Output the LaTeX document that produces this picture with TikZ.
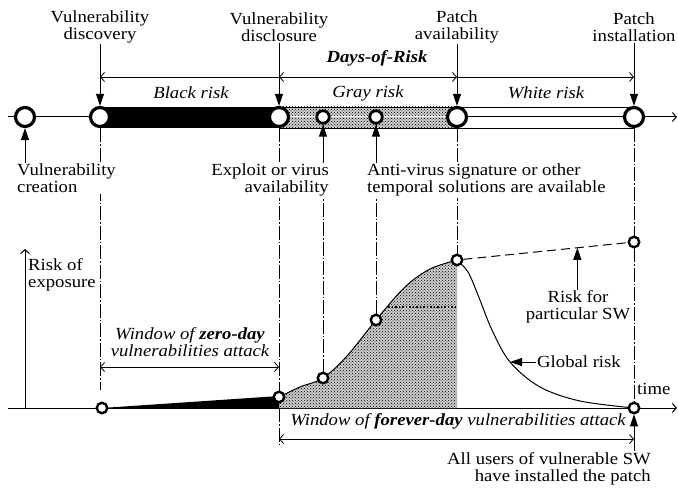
\documentclass[tikz,border=0pt]{standalone}
\usepackage{fontspec}
\setmainfont{Liberation Serif}[FakeStretch=1.1]
\usepackage{tikz}
\usetikzlibrary{arrows.meta,patterns,calc}
\newcommand\figfont{\fontsize{17}{17}\selectfont}

\begin{document}
\begin{tikzpicture}[x=1pt,y=-1pt,
  >={Straight Barb[length=4pt,width=9pt]},
  lbl/.style={font=\figfont,inner sep=1pt},
  bigring/.style={circle,draw,fill=white,line width=3.2pt,minimum size=19pt,inner sep=0pt},
  smallring/.style={bigring,line width=2.8pt,minimum size=12.5pt},
  curvering/.style={bigring,line width=2.4pt,minimum size=10.5pt},
  guide/.style={line width=0.8pt,dash pattern=on 14pt off 2pt on 1.5pt off 2pt},
  pointer/.style={line width=1pt,-{Triangle[length=12pt,width=8pt]}},
  dotted area/.style={pattern=crosshatch dots,preaction={fill=black!20}},
  span/.style={line width=0.8pt}]
  \useasboundingbox (0,0) rectangle (678,492);

  % upper time line with the three risk bands
  \coordinate (ustart) at (8,117);
  \coordinate (uend) at (677,117);
  \draw[line width=1pt,->] (ustart) -- (uend);
  \fill (100,107) rectangle (279,128);
  \draw[line width=0.8pt,dotted area] (279,107) rectangle (457,128);
  \draw[white,line width=1pt] (280,117) -- (456,117);
  \draw[line width=0.8pt] (457,107) rectangle (634,128);

  % lower axes
  \coordinate (origin) at (25,408);
  \coordinate (lstart) at (8,408);
  \coordinate (lend) at (677,408);
  \coordinate (ytop) at (25,249);
  \draw[line width=1pt,->] (lstart) -- (lend);
  \draw[line width=1pt,->] (origin) -- (ytop);

  % area under the global risk
  \fill[dotted area] (279,408) -- plot[smooth,tension=0.55] coordinates
    {(279,397) (300,387) (323,378) (347,356) (376,320) (405,287) (430,269) (457,260)}
    -- (457,408) -- cycle;
  \fill (102,408) -- (279,396) -- (279,408) -- cycle;
  \draw[line width=1.5pt,dotted] (388,307) -- (455,307);

  % global risk curve
  \draw[line width=1pt] plot[smooth,tension=0.55] coordinates
    {(279,397) (300,387) (323,378) (347,356) (376,320) (405,287) (430,269) (457,260)};
  \draw[line width=1pt] plot[smooth,tension=0.55] coordinates
    {(457,260) (468,272) (478,295) (492,330) (510,362) (540,387) (580,401) (634,408)};

  % events on the upper line
  \node[bigring] (creation) at (25,117) {};
  \node[bigring] (discovery) at (100,117) {};
  \node[bigring] (disclosure) at (279,117) {};
  \node[smallring] (exploit) at (323,117) {};
  \node[smallring] (antivirus) at (376,117) {};
  \node[bigring] (patchavail) at (457,117) {};
  \node[bigring] (patchinst) at (634,117) {};

  % points on the risk curve
  \node[curvering] (g0) at (102,408) {};
  \node[curvering] (g1) at (279,397) {};
  \node[curvering] (g2) at (323,378) {};
  \node[curvering] (g3) at (376,320) {};
  \node[curvering] (g4) at (457,260) {};
  \node[curvering] (sw) at (634,242) {};
  \node[curvering] (allusers) at (634,408) {};
  \draw[line width=1pt,dash pattern=on 9pt off 5pt] (g4) -- (sw);

  % guides down from the upper line
  \coordinate (g0top) at (100,390);
  \coordinate (fd1) at (279,439);
  \coordinate (fd2) at (634,439);
  \coordinate (fdend) at (279,444);
  \draw[guide] (discovery) -- (g0top);
  \draw[guide] (disclosure) -- (g1);
  \draw[guide] (279,408) -- (fdend);
  \draw[guide] (exploit) -- (g2);
  \draw[guide] (antivirus) -- (g3);
  \draw[guide] (patchavail) -- (g4);
  \draw[guide] (patchinst) -- (sw);
  \draw[guide] (sw) -- (allusers);

  % labels above
  \node[lbl,align=center] (ldiscovery) at (100,27) {Vulnerability\\discovery};
  \node[lbl,align=center] (ldisclosure) at (279,27) {Vulnerability\\disclosure};
  \node[lbl,align=center] (lpatchavail) at (457,27) {Patch\\availability};
  \node[lbl,align=center] (lpatchinst) at (634,27) {Patch\\installation};
  \draw[pointer] (ldiscovery) -- (discovery);
  \draw[pointer] (ldisclosure) -- (disclosure);
  \draw[pointer] (lpatchavail) -- (patchavail);
  \draw[pointer] (lpatchinst) -- (patchinst);

  % days of risk
  \node[lbl] (dor) at (377,58) {\textbf{\textit{Days-of-Risk}}};
  \coordinate (dr1) at (100,77);
  \coordinate (dr2) at (279,77);
  \coordinate (dr3) at (457,77);
  \coordinate (dr4) at (634,77);
  \draw[span,<-] (dr1) -- (dr2);
  \draw[span,<->] (dr2) -- (dr3);
  \draw[span,->] (dr3) -- (dr4);
  \node[lbl,font=\figfont\itshape] (black) at (191,93) {Black risk};
  \node[lbl,font=\figfont\itshape] (gray) at (368,93) {Gray risk};
  \node[lbl,font=\figfont\itshape] (white) at (546,93) {White risk};

  % labels below the upper line
  \node[lbl,align=left,anchor=north west,fill=white] (lcreation) at (16,163)
    {Vulnerability\\creation};
  \node[lbl,align=right,anchor=north east,fill=white] (lexploit) at (330,163)
    {Exploit or virus\\availability};
  \node[lbl,align=left,anchor=north west,fill=white] (lantivirus) at (366,163)
    {Anti-virus signature or other\\temporal solutions are available};
  \draw[pointer] (lcreation.north -| creation) -- (creation);
  \draw[pointer] (lexploit.north -| exploit) -- (exploit);
  \draw[pointer] (lantivirus.north -| antivirus) -- (antivirus);

  % risk plot labels
  \node[lbl,align=left,anchor=north west] (lrisk) at (27,257) {Risk of\\exposure};
  \node[lbl,anchor=west] (ltime) at (636,389) {time};
  \node[lbl,align=center] (lsw) at (578,307) {Risk for\\particular SW};
  \coordinate (swpt) at ($(g4)!0.68!(sw)$);
  \draw[pointer] (lsw.north -| swpt) -- (swpt);
  \coordinate (gpt) at (510,362);
  \node[lbl,anchor=west] (lglobal) at (536,362) {Global risk};
  \draw[pointer] (lglobal) -- (gpt);

  % attack windows
  \coordinate (zd1) at (100,367);
  \coordinate (zd2) at (279,367);
  \draw[span,<->] (zd1) -- (zd2);
  \node[lbl,align=center,font=\figfont\itshape] (lzero) at (190,342)
    {Window of \textbf{zero-day}\\vulnerabilities attack};
  \draw[span,<->] (fd1) -- (fd2);
  \node[lbl,font=\figfont\itshape] (lforever) at (458,421)
    {Window of \textbf{forever-day} vulnerabilities attack};
  \node[lbl,align=right,anchor=north east] (lall) at (652,451)
    {All users of vulnerable SW\\have installed the patch};
  \draw[pointer] (lall.north -| allusers) -- (allusers);
\end{tikzpicture}
\end{document}
